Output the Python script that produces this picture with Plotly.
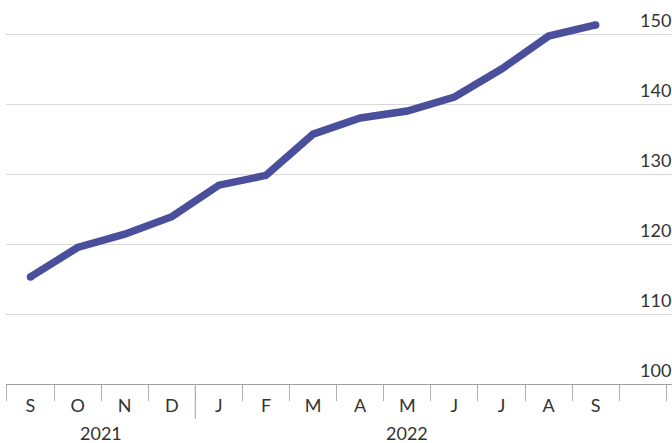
import plotly.graph_objects as go

months = ["S", "O", "N", "D", "J", "F", "M", "A", "M", "J", "J", "A", "S"]
values = [115.3, 119.5, 121.4, 123.9, 128.4, 129.8, 135.7, 138.0, 139.0, 141.0, 145.0, 149.7, 151.3]
years = ["2021", "2022"]
year_spans = [(0, 3), (4, 12)]
y_ticks = [100, 110, 120, 130, 140, 150]

x = list(range(len(months)))
FONT = "Lato"
TXT = "#333333"
LINE = "#4a4f9c"
LW = 7.5

fig = go.Figure()
fig.add_trace(go.Scatter(
    x=x, y=values, mode="lines",
    line=dict(color=LINE, width=LW),
    hoverinfo="skip", showlegend=False,
))
# round line caps at both ends
fig.add_trace(go.Scatter(
    x=[x[0], x[-1]], y=[values[0], values[-1]], mode="markers",
    marker=dict(color=LINE, size=LW, line=dict(width=0)),
    hoverinfo="skip", showlegend=False,
))

annotations = []
for v in y_ticks:
    annotations.append(dict(
        x=1, xref="paper", y=v, yref="y", text=str(v), showarrow=False,
        xanchor="right", yanchor="middle", yshift=14, xshift=1,
        font=dict(family=FONT, size=18, color=TXT),
    ))
for label, (a, b) in zip(years, year_spans):
    annotations.append(dict(
        x=(a + b) / 2, xref="x", y=0, yref="paper", text=label, showarrow=False,
        xanchor="center", yanchor="middle", yshift=-49,
        font=dict(family=FONT, size=18, color=TXT),
    ))

shapes = []
shapes.append(dict(
    type="line", xref="x", yref="paper",
    x0=year_spans[1][0] - 0.5, x1=year_spans[1][0] - 0.5,
    y0=0, y1=-35 / 384,
    line=dict(color="#b0b0b0", width=1.2),
))

fig.update_layout(
    width=672, height=443,
    margin=dict(l=6, r=0, t=0, b=59),
    paper_bgcolor="white", plot_bgcolor="white",
    annotations=annotations, shapes=shapes,
    xaxis=dict(
        range=[-0.52, 13.62],
        tickmode="array", tickvals=x, ticktext=months,
        ticks="", showgrid=False, zeroline=False,
        showline=True, linecolor="#a0a0a0", linewidth=1.2,
        tickfont=dict(family=FONT, size=18, color=TXT),
        ticklabelstandoff=5,
        minor=dict(tick0=-0.5, dtick=1, ticks="outside", ticklen=16,
                   tickcolor="#b0b0b0", tickwidth=1.2, showgrid=False),
        fixedrange=True,
    ),
    yaxis=dict(
        range=[100, 100 + 384 / 7],
        tickmode="array", tickvals=y_ticks[1:],
        showticklabels=False, ticks="",
        showgrid=True, gridcolor="#d9d9d9", gridwidth=1,
        zeroline=False, showline=False, fixedrange=True,
    ),
)

fig.write_html(
    "out.html",
    config={"displayModeBar": False},
    post_script="document.body.style.margin='0';document.body.style.overflow='hidden';",
)
